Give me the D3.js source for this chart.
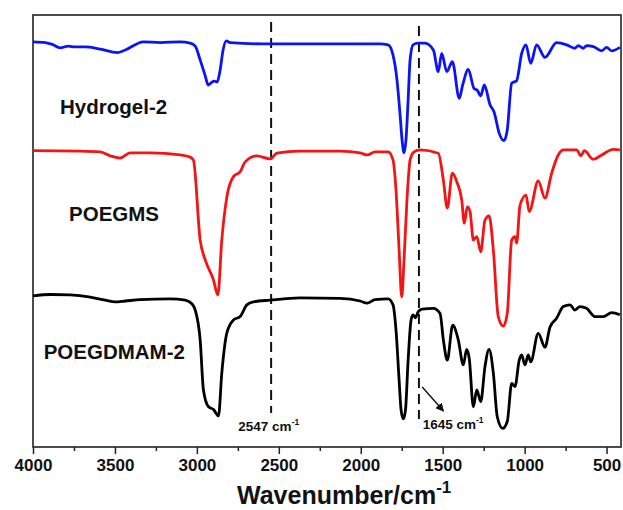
<!DOCTYPE html>
<html>
<head>
<meta charset="utf-8">
<script src="https://cdn.jsdelivr.net/npm/d3@7"></script>
<style>
  body { margin: 0; background: #fff; }
  text { font-family: "Liberation Sans", Arial, sans-serif; }
</style>
</head>
<body>
<div id="ftir"></div>
<script>
// wavenumber (cm-1) / relative transmittance readings, one pair per point
const hydrogelWn = [4000, 3925, 3882, 3834, 3785, 3742, 3681, 3590, 3486, 3437, 3327, 3224, 3102, 3041, 3010, 2980, 2949, 2931, 2913, 2894, 2876, 2858, 2840, 2821, 2797, 2553, 2248, 1882, 1833, 1803, 1779, 1760, 1748, 1736, 1724, 1711, 1699, 1681, 1650, 1608, 1557, 1527, 1506, 1475, 1441, 1399, 1378, 1344, 1309, 1289, 1268, 1246, 1211, 1187, 1155, 1126, 1106, 1079, 1049, 1018, 992, 963, 927, 876, 805, 744, 693, 673, 642, 622, 581, 530, 500, 469, 419];
const hydrogelT = [93.8, 93.6, 93.2, 92.4, 92.8, 92.6, 92.6, 92.1, 91.3, 91.9, 93.8, 93.6, 93.8, 93.5, 92.8, 89.6, 85.9, 83.8, 84.3, 84.7, 84.5, 87.3, 91.9, 94.0, 93.6, 93.3, 93.3, 93.3, 93.1, 90.7, 85.0, 76.9, 71.1, 68.1, 71.1, 80.3, 89.6, 93.1, 93.5, 93.5, 91.9, 86.9, 91.1, 86.9, 89.2, 80.7, 83.8, 87.4, 83.0, 82.6, 81.3, 83.8, 79.2, 77.6, 72.6, 70.9, 73.4, 84.2, 84.8, 91.1, 93.1, 88.8, 93.1, 90.2, 93.6, 93.1, 92.3, 92.9, 92.3, 92.9, 92.7, 91.7, 92.5, 91.7, 92.5];

const poegmsWn = [4000, 3712, 3590, 3529, 3468, 3407, 3285, 3102, 3041, 3021, 2980, 2949, 2899, 2872, 2848, 2817, 2777, 2736, 2705, 2634, 2553, 2512, 2370, 2126, 2004, 1961, 1913, 1833, 1803, 1785, 1766, 1750, 1736, 1718, 1699, 1675, 1638, 1527, 1496, 1472, 1441, 1414, 1384, 1368, 1350, 1333, 1313, 1292, 1268, 1242, 1217, 1191, 1161, 1130, 1106, 1079, 1059, 1049, 1028, 992, 972, 917, 876, 835, 795, 764, 683, 656, 636, 581, 530, 459, 419];
const poegmsT = [68.6, 68.5, 68.3, 67.4, 66.9, 68.1, 68.1, 67.6, 67.1, 66.4, 47.9, 43.3, 38.7, 35.2, 47.9, 57.9, 62.6, 63.7, 66.0, 67.4, 66.7, 68.0, 68.5, 68.5, 68.1, 67.6, 68.3, 68.3, 66.4, 59.5, 45.6, 34.7, 43.3, 57.2, 66.4, 68.3, 68.8, 68.0, 61.8, 55.3, 63.4, 61.4, 57.2, 51.8, 55.6, 54.5, 47.9, 48.7, 45.2, 52.5, 53.5, 45.6, 30.2, 28.0, 30.9, 47.9, 48.7, 47.2, 56.0, 58.3, 54.5, 61.6, 57.6, 63.4, 67.6, 68.8, 68.8, 67.4, 68.6, 66.6, 67.6, 68.9, 68.8];

const poegdmamWn = [4000, 3894, 3773, 3651, 3559, 3498, 3437, 3346, 3163, 3071, 3029, 3010, 2980, 2960, 2929, 2899, 2868, 2848, 2817, 2777, 2736, 2695, 2655, 2553, 2370, 2126, 2004, 1961, 1913, 1833, 1803, 1785, 1766, 1754, 1740, 1727, 1711, 1693, 1681, 1666, 1650, 1626, 1557, 1516, 1496, 1472, 1439, 1405, 1374, 1354, 1338, 1313, 1292, 1268, 1242, 1217, 1191, 1167, 1134, 1106, 1079, 1059, 1033, 1018, 998, 978, 963, 917, 876, 845, 805, 764, 723, 693, 663, 622, 571, 520, 469, 419];
const poegdmamT = [35.0, 35.3, 35.2, 34.7, 34.0, 33.6, 33.8, 34.1, 34.3, 34.0, 33.1, 31.7, 24.8, 13.2, 9.3, 8.7, 7.2, 17.1, 26.4, 29.4, 30.2, 32.9, 33.6, 34.0, 34.5, 34.4, 33.8, 33.3, 34.1, 34.3, 32.9, 27.1, 15.5, 8.6, 6.5, 8.6, 20.1, 29.4, 30.6, 29.9, 31.3, 31.9, 32.1, 30.9, 24.8, 20.1, 28.2, 24.8, 19.0, 22.6, 20.5, 9.3, 13.2, 10.5, 18.6, 22.6, 17.1, 7.0, 4.3, 5.9, 14.7, 14.0, 20.1, 21.3, 19.0, 21.3, 19.7, 26.3, 23.1, 27.8, 29.8, 32.5, 32.9, 31.7, 32.5, 32.1, 30.2, 30.2, 31.1, 30.6];

const seriesNames = ["Hydrogel-2", "POEGMS", "POEGDMAM-2"];
const seriesColors = ["#0a14f5", "#f51414", "#000000"];

const majorTicks = [4000, 3500, 3000, 2500, 2000, 1500, 1000, 500];
const minorTicks = [3750, 3250, 2750, 2250, 1750, 1250, 750];

// marked bands
const markWn = [2547, 1645];
const markLabels = ["2547 cm", "1645 cm"];

const zip = (wn, t) => wn.map((w, i) => ({ wn: w, t: t[i] }));
const series = [zip(hydrogelWn, hydrogelT), zip(poegmsWn, poegmsT), zip(poegdmamWn, poegdmamT)];

const W = 623, H = 510;
const margin = { top: 15, right: 2, bottom: 63, left: 33 };
const width = W - margin.left - margin.right;
const height = H - margin.top - margin.bottom;

const svg = d3.select("#ftir")
    .append("svg")
    .attr("width", W)
    .attr("height", H)
    .append("g")
    .attr("transform", "translate(" + margin.left + "," + margin.top + ")");

const x = d3.scaleLinear().domain([4000, 412]).range([0, width]);
const y = d3.scaleLinear().domain([0, 100]).range([height, 0]);

// minor ticks
svg.append("g")
    .attr("transform", "translate(0," + height + ")")
    .call(d3.axisBottom(x).tickValues(minorTicks).tickSize(4).tickFormat(""))
    .call(g => g.select(".domain").remove())
    .call(g => g.selectAll("line").attr("stroke", "#222").attr("stroke-width", 1.5));

// major ticks + labels
svg.append("g")
    .attr("transform", "translate(0," + height + ")")
    .call(d3.axisBottom(x).tickValues(majorTicks).tickSize(7).tickPadding(5).tickFormat(d3.format("d")))
    .call(g => g.select(".domain").remove())
    .call(g => g.selectAll("line").attr("stroke", "#222").attr("stroke-width", 1.5))
    .call(g => g.selectAll("text")
        .attr("fill", "#111")
        .style("font-size", "17px")
        .style("font-weight", "bold")
        .style("font-family", "'Liberation Sans', Arial, sans-serif"));

// frame
svg.append("rect")
    .attr("x", 0).attr("y", 0)
    .attr("width", width).attr("height", height)
    .attr("fill", "none")
    .attr("stroke", "#222")
    .attr("stroke-width", 1.6);

// dashed marker lines
const markBottom = [413, 419];
markWn.forEach((w, i) => {
    svg.append("line")
        .attr("x1", x(w)).attr("x2", x(w))
        .attr("y1", i == 0 ? 7 : 11)
        .attr("y2", markBottom[i] - margin.top)
        .attr("stroke", "#111")
        .attr("stroke-width", 2)
        .attr("stroke-dasharray", "10,6");
});

// spectra
const line = d3.line()
    .x(d => x(d.wn))
    .y(d => y(d.t))
    .curve(d3.curveMonotoneX);

svg.selectAll(".spec")
    .data(series)
    .enter()
    .append("path")
    .attr("class", "spec")
    .attr("fill", "none")
    .attr("stroke", (d, i) => seriesColors[i])
    .attr("stroke-width", 2.8)
    .attr("stroke-linejoin", "round")
    .attr("d", line);

// series names
const namePos = [[3835, 113.5], [3780, 220.5], [3935, 358.5]];
svg.selectAll(".name")
    .data(seriesNames)
    .enter()
    .append("text")
    .attr("class", "name")
    .attr("x", (d, i) => x(namePos[i][0]))
    .attr("y", (d, i) => namePos[i][1] - margin.top)
    .attr("fill", "#111")
    .style("font-size", "20.5px")
    .style("font-weight", "bold")
    .text(d => d);

// band labels
const labelPos = [[2747, 431], [1622, 428.5]];
markLabels.forEach((s, i) => {
    const t = svg.append("text")
        .attr("x", x(labelPos[i][0]))
        .attr("y", labelPos[i][1] - margin.top)
        .attr("fill", "#111")
        .style("font-size", "13.5px")
        .style("font-weight", "bold");
    t.append("tspan").text(s);
    t.append("tspan").attr("dy", -6).style("font-size", "8.5px").text("-1");
});

// arrow toward 1645 band label
svg.append("defs").append("marker")
    .attr("id", "head")
    .attr("viewBox", "0 0 10 10")
    .attr("refX", 9).attr("refY", 5)
    .attr("markerWidth", 6).attr("markerHeight", 6)
    .attr("orient", "auto")
    .append("path")
    .attr("d", "M0,0 L10,5 L0,10 Z")
    .attr("fill", "#111");

svg.append("line")
    .attr("x1", x(1625)).attr("y1", 387 - margin.top)
    .attr("x2", x(1495)).attr("y2", 411 - margin.top)
    .attr("stroke", "#111")
    .attr("stroke-width", 1.4)
    .attr("marker-end", "url(#head)");

// axis title
const title = svg.append("text")
    .attr("x", 237 - margin.left)
    .attr("y", 504 - margin.top)
    .attr("fill", "#111")
    .style("font-size", "25px")
    .style("font-weight", "bold");
title.append("tspan").text("Wavenumber/cm");
title.append("tspan").attr("dy", -11).style("font-size", "17px").text("-1");
</script>
</body>
</html>
